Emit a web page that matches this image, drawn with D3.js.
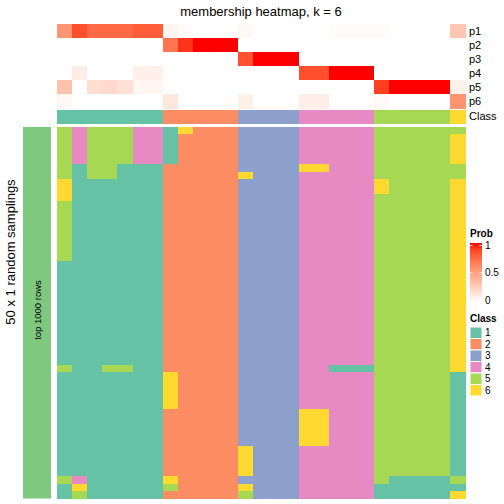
<!DOCTYPE html>
<html><head><meta charset="utf-8">
<script src="https://cdn.jsdelivr.net/npm/d3@7"></script>
<style>body{margin:0;background:#fff}svg{display:block;font-family:"Liberation Sans",Arial,sans-serif}</style>
</head><body><svg id="c" width="504" height="504"></svg>
<script>
const probRows = ["p1","p2","p3","p4","p5","p6"];
const p1 = [0.55,0.85,0.75,0.75,0.75,0.8,0.8,0.06,0.02,0,0,0,0.04,0,0,0,0,0,0.02,0.02,0.02,0.02,0,0,0,0,0.3];
const p2 = [0,0,0,0,0,0,0,0.7,0.93,1,1,1,0,0,0,0,0,0,0,0,0,0,0,0,0,0,0];
const p3 = [0,0,0,0,0,0,0,0,0,0,0,0,0.84,1,1,1,0,0,0,0,0,0,0,0,0,0,0];
const p4 = [0,0.1,0,0,0,0.08,0.08,0,0,0,0,0,0,0,0,0,0.85,0.85,1,1,1,0,0,0,0,0,0];
const p5 = [0.32,0,0.17,0.2,0.16,0.05,0.05,0,0,0,0,0,0,0,0,0,0,0,0,0,0,0.9,1,1,1,1,0.07];
const p6 = [0.04,0,0,0,0,0,0,0.13,0,0,0,0,0.08,0,0,0,0.09,0.09,0,0,0,0.03,0,0,0,0,0.56];
const classes = [1,1,1,1,1,1,1,2,2,2,2,2,3,3,3,3,4,4,4,4,4,5,5,5,5,5,6];
const classLabels = ["1","2","3","4","5","6"];
const probTicks = [0,0.5,1];
const samplings = [
"545554416222333344444555555",
"545554412222333344444555556",
"545554412222333344444555556",
"545554412222333344444555556",
"545554412222333344444555556",
"515511122222333366444555555",
"515511122222633344444555555",
"611111122222333344444655556",
"611111122222333344444655556",
"611111122222333344444555556",
"511111122222333344444555556",
"511111122222333344444555556",
"511111122222333344444555556",
"511111122222333344444555556",
"511111122222333344444555556",
"511111122222333344444555556",
"511111122222333344444555556",
"511111122222333344444555556",
"111111122222333344444555556",
"111111122222333344444555556",
"111111122222333344444555556",
"111111122222333344444555556",
"111111122222333344444555556",
"111111122222333344444555556",
"111111122222333344444555556",
"111111122222333344444555556",
"111111122222333344444555556",
"111111122222333344444555556",
"111111122222333344444555556",
"111111122222333344444555556",
"111111122222333344444555556",
"111111122222333344444555556",
"511551122222333344111555556",
"111111162222333344444555551",
"111111162222333344444555551",
"111111162222333344444555551",
"111111162222333344444555551",
"111111162222333344444555551",
"111111122222333366444555551",
"111111122222333366444555551",
"111111122222333366444555551",
"111111122222333366444555551",
"111111122222333366444555551",
"111111122222633344444555551",
"111111122222633344444555551",
"111111122222633344444555551",
"111111122222633344444555551",
"541111162222333344444511115",
"161111152222633344444111111",
"151111122222533344444111116"
];

const probs = [p1,p2,p3,p4,p5,p6];
const classColors = ["#66C2A5","#FC8D62","#8DA0CB","#E78AC3","#A6D854","#FFD92F"];
const classColor = d3.scaleOrdinal().domain(classLabels).range(classColors);
const probColor = d3.scaleLinear().domain([0,1]).range(["#FFFFFF","#FF0000"]).interpolate(d3.interpolateLab);

const svg = d3.select("#c");
const nCol = classes.length;
const x = d3.scaleBand().domain(d3.range(nCol)).range([57,465]);
const yTop = d3.scaleBand().domain(probRows).range([24,108]);
const yBot = d3.scaleBand().domain(d3.range(samplings.length)).range([127,498.5]);

svg.append("text").attr("x",261).attr("y",16).attr("text-anchor","middle")
  .attr("font-size",13).text("membership heatmap, k = 6");

// top prob heatmap
const gTop = svg.append("g").attr("shape-rendering","crispEdges");
probs.forEach((row,ri)=>{
  gTop.selectAll(null).data(row).join("rect")
    .attr("x",(d,i)=>x(i)).attr("y",yTop(probRows[ri]))
    .attr("width",x.bandwidth()+0.5).attr("height",yTop.bandwidth()+0.5)
    .attr("fill",d=>probColor(d));
});
// class annotation
gTop.selectAll(null).data(classes).join("rect")
  .attr("x",(d,i)=>x(i)).attr("y",109.5)
  .attr("width",x.bandwidth()+0.5).attr("height",14)
  .attr("fill",d=>classColor(String(d)));

// row labels
probRows.concat(["Class"]).forEach((lab,i)=>{
  const yc = i<6 ? yTop(lab)+yTop.bandwidth()/2 : 116.5;
  svg.append("text").attr("x",469).attr("y",yc).attr("dy","0.35em")
    .attr("font-size",11).text(lab);
});

// bottom heatmap
const gBot = svg.append("g").attr("shape-rendering","crispEdges");
samplings.forEach((s,ri)=>{
  gBot.selectAll(null).data(s.split("")).join("rect")
    .attr("x",(d,i)=>x(i)).attr("y",yBot(ri))
    .attr("width",x.bandwidth()+0.5).attr("height",yBot.bandwidth()+0.5)
    .attr("fill",d=>classColor(d));
});

// left strip
svg.append("rect").attr("x",23).attr("y",127).attr("width",28).attr("height",371.5)
  .attr("fill","#7FC97F");
svg.append("text").attr("transform","translate(41,310) rotate(-90)")
  .attr("text-anchor","middle").attr("font-size",9.5).text("top 1000 rows");
svg.append("text").attr("transform","translate(14.5,252) rotate(-90)")
  .attr("text-anchor","middle").attr("font-size",13).text("50 x 1 random samplings");

// Prob legend
const lg = svg.append("g");
lg.append("text").attr("x",470).attr("y",236.5).attr("font-size",10).attr("font-weight","bold").text("Prob");
const defs = svg.append("defs");
const grad = defs.append("linearGradient").attr("id","pg").attr("x1",0).attr("y1",1).attr("x2",0).attr("y2",0);
d3.range(0,1.01,0.1).forEach(t=>grad.append("stop").attr("offset",t).attr("stop-color",probColor(t)));
const yLeg = d3.scaleLinear().domain([0,1]).range([300,245.5]);
lg.append("rect").attr("x",470).attr("y",243).attr("width",12).attr("height",59).attr("fill","url(#pg)");
probTicks.forEach(t=>{
  lg.append("text").attr("x",485).attr("y",yLeg(t)).attr("dy","0.35em").attr("font-size",10).text(String(t));
  if(t>0){
    lg.append("line").attr("x1",470).attr("x2",472.5).attr("y1",yLeg(t)).attr("y2",yLeg(t)).attr("stroke","#fff").attr("stroke-width",0.8);
    lg.append("line").attr("x1",479.5).attr("x2",482).attr("y1",yLeg(t)).attr("y2",yLeg(t)).attr("stroke","#fff").attr("stroke-width",0.8);
  }
});

// Class legend
lg.append("text").attr("x",470).attr("y",322).attr("font-size",10).attr("font-weight","bold").text("Class");
classLabels.forEach((c,i)=>{
  const y0 = 327 + i*11.5;
  lg.append("rect").attr("x",470).attr("y",y0).attr("width",12).attr("height",11.5)
    .attr("fill",classColor(c)).attr("stroke","#fff").attr("stroke-width",1);
  lg.append("text").attr("x",485).attr("y",y0+5.75).attr("dy","0.35em").attr("font-size",10).text(c);
});
</script></body></html>
